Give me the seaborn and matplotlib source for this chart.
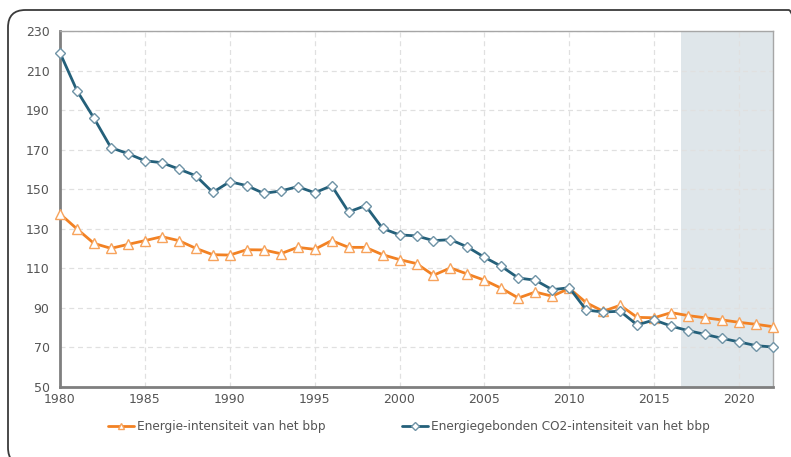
import pandas as pd
import matplotlib.pyplot as plt
import seaborn as sns
from matplotlib.patches import FancyBboxPatch

# Data
years = list(range(1980, 2023))
energie = [137.5, 129.9, 122.6, 120.1, 122.1, 124.0, 126.0, 124.0, 120.1, 116.9,
           116.7, 119.4, 119.3, 117.4, 120.6, 119.6, 124.0, 120.6, 120.6, 116.9,
           114.4, 112.4, 106.5, 110.2, 107.1, 104.0, 99.9, 95.0, 98.0, 95.9,
           99.9, 92.6, 88.3, 91.3, 85.2, 85.0, 87.6, 86.1, 85.0, 83.9,
           82.7, 81.7, 80.5]
co2 = [218.9, 199.8, 185.9, 171.0, 168.0, 164.4, 163.4, 160.2, 156.8, 148.4,
       153.8, 151.8, 147.9, 149.1, 151.3, 148.2, 151.8, 138.5, 141.7, 130.2,
       126.9, 126.4, 124.0, 124.5, 120.8, 115.6, 111.0, 105.1, 104.0, 99.2,
       100.2, 88.9, 87.9, 88.3, 81.4, 83.9, 80.8, 78.5, 76.6, 74.6,
       72.8, 70.9, 70.2]
label_e = "Energie-intensiteit van het bbp"
label_c = "Energiegebonden CO2-intensiteit van het bbp"
shade_start = 2016.57

df = pd.DataFrame({"jaar": years, label_e: energie, label_c: co2})

sns.set_style("white")
plt.rcParams['font.family'] = ['DejaVu Sans']

fig = plt.figure(figsize=(7.91, 4.57), dpi=100)
ax = fig.add_axes([0.0759, 0.1532, 0.9013, 0.779])

# rounded frame (partly outside the image on the right and bottom)
frame = FancyBboxPatch((8 / 791, -8 / 457), 798 / 791, 455 / 457,
                       boxstyle="round,pad=0,rounding_size=0.022",
                       transform=fig.transFigure, fill=False,
                       edgecolor="#3a3a3a", linewidth=1.3, zorder=-5,
                       mutation_aspect=791 / 457)
fig.patches.append(frame)

ax.axvspan(shade_start, 2022, color="#dfe6ea", zorder=0, lw=0)

orange = "#f28123"
blue = "#24607a"
sns.lineplot(data=df, x="jaar", y=label_e, ax=ax, color=orange, lw=2,
             marker="^", markersize=7, markerfacecolor="white",
             markeredgecolor="#f7a35c", markeredgewidth=1, label=label_e,
             zorder=3, clip_on=False)
sns.lineplot(data=df, x="jaar", y=label_c, ax=ax, color=blue, lw=2,
             marker="D", markersize=5.5, markerfacecolor="white",
             markeredgecolor="#6f93a6", markeredgewidth=1, label=label_c,
             zorder=4, clip_on=False)

ax.set_xlim(1980, 2022)
ax.set_ylim(50, 230)
ax.set_xticks(range(1980, 2021, 5))
ax.set_yticks(range(50, 231, 20))
ax.set_xlabel("")
ax.set_ylabel("")
ax.grid(True, color="#e0e0e0", linestyle=(0, (4, 3)), linewidth=0.9)
ax.set_axisbelow(True)

for side in ["left", "bottom"]:
    ax.spines[side].set_color("#7f7f7f")
    ax.spines[side].set_linewidth(2)
for side in ["top", "right"]:
    ax.spines[side].set_color("#a6a6a6")
    ax.spines[side].set_linewidth(1)
ax.tick_params(axis="both", colors="#7f7f7f", labelcolor="#555555",
               labelsize=9, length=4, width=1.5, direction="out")
ax.tick_params(axis="x", length=0, pad=4)

leg = ax.legend(loc="upper center", bbox_to_anchor=(0.489, -0.062), ncol=2,
                frameon=False, fontsize=8.7, handlelength=2.2,
                columnspacing=6.3, handletextpad=0.2, markerscale=0.7)
for t in leg.get_texts():
    t.set_color("#555555")

fig.savefig("out.png", dpi=100)
